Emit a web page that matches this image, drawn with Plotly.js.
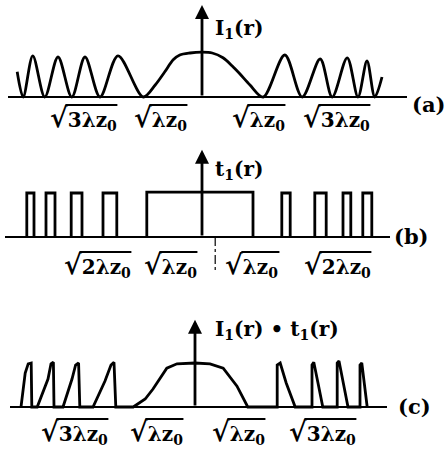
<!DOCTYPE html>
<html>
<head>
<meta charset="utf-8">
<script src="https://cdn.plot.ly/plotly-3.0.1.min.js"></script>
<style>
  html, body { margin: 0; padding: 0; background: #fff; }
  #fig { width: 446px; height: 452px; }
</style>
</head>
<body>
<div id="fig"></div>
<script>
// (a) intensity I1(r): r in units of sqrt(lambda z0), I relative to ring height
const aR = [-3.08, -2.98, -2.82, -2.62, -2.40, -2.17, -1.95, -1.70, -1.40, -0.98,
            -0.78, -0.62, -0.48, -0.37, -0.20, 0.00, 0.17, 0.35, 0.50, 0.63, 0.80, 1.02,
            1.38, 1.67, 1.97, 2.17, 2.42, 2.60, 2.75, 2.88, 3.00];
const aI = [0.63, 0.00, 1.03, 0.00, 1.00, 0.00, 1.00, 0.00, 1.03, 0.00,
            0.30, 0.63, 0.93, 1.05, 1.10, 1.12, 1.10, 0.98, 0.78, 0.58, 0.30, 0.00,
            1.05, 0.00, 0.95, 0.00, 0.98, 0.00, 0.90, 0.00, 0.50];

// (b) transmission t1(r): open zones as rectangles
const bLeft   = [-2.92, -2.60, -2.18, -1.65, -0.92, 1.33, 1.88, 2.35, 2.68];
const bRight  = [-2.80, -2.45, -2.00, -1.42, 0.85, 1.47, 2.07, 2.48, 2.83];
const bHeight = [1.10, 1.10, 1.10, 1.10, 1.12, 1.10, 1.10, 1.10, 1.10];
const bMarkR  = [0.22, 0.22];
const bMarkV  = [0.00, -0.87];

// (c) product I1(r) * t1(r)
const cR = [-2.90, -2.83, -2.78, -2.73, -2.72,
            -2.63, -2.45, -2.40, -2.36, -2.35,
            -2.20, -2.05, -1.99, -1.94, -1.92,
            -1.70, -1.50, -1.40, -1.35, -1.32,
            -1.03, -0.83, -0.70, -0.47, -0.30, 0.00, 0.25, 0.47, 0.70, 0.88,
            1.37, 1.37, 1.42, 1.52, 1.67,
            1.95, 1.95, 1.98, 2.05, 2.13,
            2.37, 2.37, 2.40, 2.47, 2.55,
            2.75, 2.75, 2.78, 2.82, 2.87];
const cV = [0.00, 0.85, 1.08, 1.10, 0.00,
            0.00, 0.70, 1.08, 1.12, 0.00,
            0.00, 0.70, 1.05, 1.10, 0.00,
            0.00, 0.65, 1.05, 1.12, 0.00,
            0.00, 0.20, 0.45, 0.97, 1.08, 1.10, 1.08, 0.97, 0.52, 0.00,
            0.00, 1.05, 1.10, 0.60, 0.00,
            0.00, 1.05, 1.12, 0.60, 0.00,
            0.00, 1.10, 1.15, 0.60, 0.00,
            0.00, 1.05, 1.10, 0.60, 0.00];

// text
const funcNames = ['I<sub>1</sub>(r)', 't<sub>1</sub>(r)', 'I<sub>1</sub>(r) \u2022 t<sub>1</sub>(r)'];
const panelTags = ['(a)', '(b)', '(c)'];
// radicands: [main part, subscript]
const radA = [['3\u03bbz', '0'], ['\u03bbz', '0'], ['\u03bbz', '0'], ['3\u03bbz', '0']];
const radB = [['2\u03bbz', '0'], ['\u03bbz', '0'], ['\u03bbz', '0'], ['2\u03bbz', '0']];
const radC = radA;

// ---- geometry of the three strips (pixels) ----
const W = 446, H = 452, PX = 60, PY = 40;
const INK = '#000';
const LW = 2.8;
const FAMILY = 'DejaVu Serif';
const FS = 20;      // label size
const RS = 27;      // radical sign size

function strip(n, cx, base, left, right, ymin, ymax) {
  const xa = {
    domain: [left / W, right / W],
    range: [(left - cx) / PX, (right - cx) / PX],
    showgrid: false, zeroline: false, showticklabels: false, ticks: '',
    showline: false, fixedrange: true, anchor: 'y' + n
  };
  const ya = {
    domain: [1 - (base - ymin * PY) / H, 1 - (base - ymax * PY) / H],
    range: [ymin, ymax],
    showgrid: false, zeroline: true, zerolinecolor: INK, zerolinewidth: LW,
    showticklabels: false, ticks: '', showline: false, fixedrange: true,
    anchor: 'x' + n
  };
  return { xa, ya };
}

const S1 = strip(1, 202, 97, 8, 407, -0.3, 2.4);
const S2 = strip(2, 202, 237, 5, 390, -1.0, 2.3);
const S3 = strip(3, 195, 407, 10, 387, -0.3, 2.3);

// rectangles -> one outline path
const bx = [], by = [];
bLeft.forEach((l, i) => {
  const r = bRight[i], h = bHeight[i];
  bx.push(l, l, r, r, null);
  by.push(0, h, h, 0, null);
});

const lineStyle = { color: INK, width: LW };
const traces = [
  { x: aR, y: aI, xaxis: 'x', yaxis: 'y', mode: 'lines', line: Object.assign({ shape: 'spline', smoothing: 0.9 }, lineStyle), hoverinfo: 'skip' },
  { x: bx, y: by, xaxis: 'x2', yaxis: 'y2', mode: 'lines', line: lineStyle, connectgaps: false, hoverinfo: 'skip' },
  { x: bMarkR, y: bMarkV, xaxis: 'x2', yaxis: 'y2', mode: 'lines', line: { color: INK, width: 1.2, dash: 'dashdot' }, hoverinfo: 'skip' },
  { x: cR, y: cV, xaxis: 'x3', yaxis: 'y3', mode: 'lines', line: lineStyle, hoverinfo: 'skip' }
];

const ann = [];
const shapes = [];
// vertical axes with arrowheads
[['x', 'y', 2.3], ['x2', 'y2', 2.18], ['x3', 'y3', 2.18]].forEach(([xr, yr, top]) => {
  ann.push({ xref: xr, yref: yr, axref: xr, ayref: yr, x: 0, y: top, ax: 0, ay: 0,
             text: '', showarrow: true, arrowhead: 2, arrowsize: 1.0, arrowwidth: LW, arrowcolor: INK });
});

function txt(px, py, text, size, anchor) {
  ann.push({ xref: 'paper', yref: 'paper', x: px / W, y: 1 - py / H, text: text,
             showarrow: false, xanchor: anchor || 'center', yanchor: 'middle',
             font: { family: FAMILY, size: size, color: INK, weight: 'bold' } });
}

// text width measuring for the radical vinculum
const ctx = document.createElement('canvas').getContext('2d');
function tw(s, size) {
  ctx.font = 'bold ' + size + 'px "' + FAMILY + '"';
  return ctx.measureText(s).width;
}

// square-root label centred at (px, py) with a bar over the radicand
function rad(px, py, part) {
  const [main, sub] = part;
  const wS = tw('\u221a', RS);
  const wB = tw(main, FS) + tw(sub, FS * 0.7);
  const left = px - (wS + wB) / 2;
  txt(px, py, '<span style="font-size:' + RS + 'px">\u221a</span>' + main + '<sub>' + sub + '</sub>', FS);
  const yBar = 1 - (py - 13) / H;
  shapes.push({ type: 'line', xref: 'paper', yref: 'paper',
                x0: (left + wS - 2) / W, x1: (left + wS + wB + 1) / W, y0: yBar, y1: yBar,
                line: { color: INK, width: 1.8 } });
}

// function names beside the arrows
txt(213, 29, funcNames[0], FS, 'left');
txt(213, 170, funcNames[1], FS, 'left');
txt(213, 330, funcNames[2], FS, 'left');
// strip tags
txt(428, 104, panelTags[0], 21);
txt(411, 236, panelTags[1], 21);
txt(414, 406, panelTags[2], 21);
// radical labels under each axis
[83, 160, 258, 336].forEach((px, i) => rad(px, 118, radA[i]));
[97, 170, 252, 337].forEach((px, i) => rad(px, 265, radB[i]));
[74, 156, 238, 322].forEach((px, i) => rad(px, 432, radC[i]));

const layout = {
  width: W, height: H,
  margin: { l: 0, r: 0, t: 0, b: 0 },
  paper_bgcolor: '#fff', plot_bgcolor: 'rgba(0,0,0,0)',
  showlegend: false,
  xaxis: S1.xa, yaxis: S1.ya,
  xaxis2: S2.xa, yaxis2: S2.ya,
  xaxis3: S3.xa, yaxis3: S3.ya,
  annotations: ann,
  shapes: shapes
};

Plotly.newPlot('fig', traces, layout, { staticPlot: true, displayModeBar: false });
</script>
</body>
</html>
